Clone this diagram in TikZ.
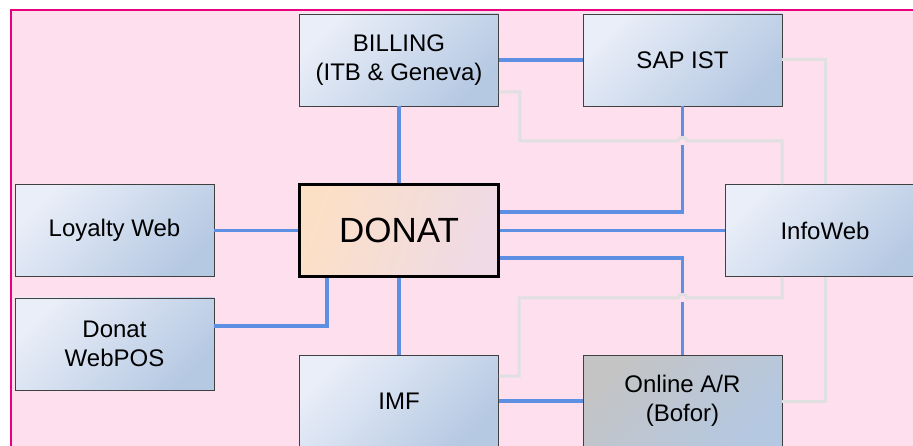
\documentclass[tikz,border=0pt]{standalone}
\usepackage{fontspec}
\setmainfont{Liberation Sans}
\definecolor{pinkbg}{HTML}{FDDFEE}
\definecolor{magentaframe}{HTML}{E6007E}
\definecolor{linkblue}{HTML}{5D8FE3}
\definecolor{linkgray}{HTML}{E0E0E0}
\definecolor{boxlight}{HTML}{E9EEF8}
\definecolor{boxdark}{HTML}{B6C9E3}
\definecolor{graylight}{HTML}{C4C4C4}
\definecolor{graydark}{HTML}{B5C8E2}
\definecolor{peach}{HTML}{FCE0C6}
\definecolor{lilac}{HTML}{EFDAE6}
\tikzset{
  sysbox/.style={draw=black!75, line width=0.9pt, minimum width=199pt, minimum height=92pt,
    inner sep=0pt, align=center, font=\fontsize{24}{29}\selectfont,
    top color=boxlight, bottom color=boxdark, shading angle=45},
  graybox/.style={sysbox, top color=graylight, bottom color=graydark, shading angle=45},
  hubbox/.style={sysbox, draw=black, line width=2.2pt, font=\fontsize{35}{40}\selectfont,
    top color=peach, bottom color=lilac, shading angle=70},
  bluelink/.style={draw=linkblue, line width=3.2pt},
  graylink/.style={draw=linkgray, line width=3pt}
}
\begin{document}
\begin{tikzpicture}[x=1pt, y=-1pt]
\useasboundingbox (0,0) rectangle (913,446);
\clip (0,0) rectangle (913,446);
\fill[white] (0,0) rectangle (913,446);
\draw[fill=pinkbg, draw=magentaframe, line width=2.6pt] (11,10) rectangle (930,460);

\node[sysbox] (billing) at (399,60) {BILLING\\(ITB \& Geneva)};
\node[sysbox] (sap) at (682.5,60) {SAP IST};
\node[sysbox] (loyalty) at (114.5,230.5) {Loyalty Web};
\node[hubbox] (donat) at (399,230.5) {DONAT};
\node[sysbox] (infoweb) at (825,230.5) {InfoWeb};
\node[sysbox] (webpos) at (114.5,344) {Donat\\WebPOS};
\node[sysbox] (imf) at (399,401) {IMF};
\node[graybox] (online) at (682.5,401) {Online A/R\\(Bofor)};

\coordinate (h1) at (682.5,141);
\coordinate (h2) at (682.5,298);

% gray links
\draw[graylink] ([yshift=-32pt]billing.east) -- ++(21,0) |- ([xshift=-4.5pt]h1)
  .. controls ([xshift=-4.5pt,yshift=5pt]h1) and ([xshift=4.5pt,yshift=5pt]h1) .. ([xshift=4.5pt]h1)
  -| ([xshift=-43pt]infoweb.north);
\draw[graylink] (sap.east) -| (infoweb.north);
\draw[graylink] ([xshift=-43pt]infoweb.south) |- ([xshift=4.5pt]h2)
  .. controls ([xshift=4.5pt,yshift=5pt]h2) and ([xshift=-4.5pt,yshift=5pt]h2) .. ([xshift=-4.5pt]h2)
  -- (519,298) |- ([yshift=25pt]imf.east);
\draw[graylink] (infoweb.south) |- (online.east);

% blue links
\draw[bluelink] (billing.south) -- (donat.north);
\draw[bluelink] (billing.east) -- (sap.west);
\draw[bluelink] (loyalty.east) -- (donat.west);
\draw[bluelink] ([yshift=18.5pt]donat.east) -| ([yshift=-4.5pt]h1);
\draw[bluelink] ([yshift=4.5pt]h1) -- (sap.south);
\draw[bluelink] (donat.east) -- (infoweb.west);
\draw[bluelink] ([yshift=-27.5pt]donat.east) -| ([yshift=4.5pt]h2);
\draw[bluelink] ([yshift=-4.5pt]h2) -- (online.north);
\draw[bluelink] ([xshift=-72pt]donat.south) |- ([yshift=18pt]webpos.east);
\draw[bluelink] (donat.south) -- (imf.north);
\draw[bluelink] (imf.east) -- (online.west);
\end{tikzpicture}
\end{document}
